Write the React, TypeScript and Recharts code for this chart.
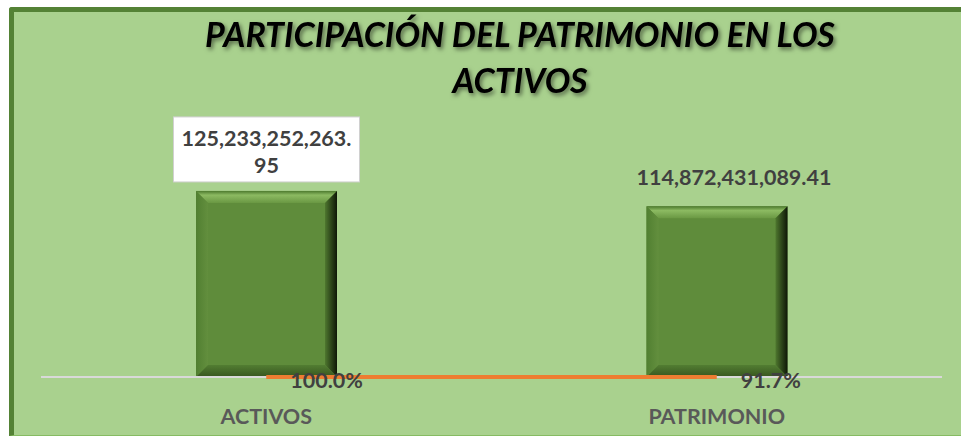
import React from 'react';
import { ComposedChart, Bar, Line, XAxis, YAxis, LabelList, Customized, ReferenceLine } from 'recharts';

const categories = ['ACTIVOS', 'PATRIMONIO'];
const amounts = [125233252263.95, 114872431089.41];
const shares = [1.0, 0.917];
const titleLines = ['PARTICIPACIÓN DEL PATRIMONIO EN LOS', 'ACTIVOS'];

const data = categories.map((name, i) => ({ name, amount: amounts[i], share: shares[i] }));

const FONT = 'Lato, "Open Sans", sans-serif';
const LABEL_SIZE = 21.5;

const fmtAmount = (v: number) =>
  v.toLocaleString('en-US', { minimumFractionDigits: 2, maximumFractionDigits: 2 });

const BevelBar = (props: any) => {
  const { x, y, width: w, height: h, index } = props;
  if (!w || !h) return null;
  const b = 12;
  const id = `bv${index}`;
  return (
    <g>
      <defs>
        <linearGradient id={`${id}t`} x1="0" y1="0" x2="0" y2="1">
          <stop offset="0" stopColor="#4d7a2e" />
          <stop offset="0.35" stopColor="#8cba62" />
          <stop offset="1" stopColor="#6a9843" />
        </linearGradient>
        <linearGradient id={`${id}l`} x1="0" y1="0" x2="1" y2="0">
          <stop offset="0" stopColor="#517f31" />
          <stop offset="1" stopColor="#638f3e" />
        </linearGradient>
        <linearGradient id={`${id}r`} x1="0" y1="0" x2="1" y2="0">
          <stop offset="0" stopColor="#4e772e" />
          <stop offset="1" stopColor="#0e1707" />
        </linearGradient>
        <linearGradient id={`${id}b`} x1="0" y1="0" x2="0" y2="1">
          <stop offset="0" stopColor="#527d32" />
          <stop offset="1" stopColor="#38561f" />
        </linearGradient>
      </defs>
      <rect x={x} y={y} width={w} height={h} fill="#5f8c3b" />
      <polygon points={`${x},${y} ${x + w},${y} ${x + w - b},${y + b} ${x + b},${y + b}`} fill={`url(#${id}t)`} />
      <polygon points={`${x},${y} ${x + b},${y + b} ${x + b},${y + h - b} ${x},${y + h}`} fill={`url(#${id}l)`} />
      <polygon points={`${x + w},${y} ${x + w},${y + h} ${x + w - b},${y + h - b} ${x + w - b},${y + b}`} fill={`url(#${id}r)`} />
      <polygon points={`${x},${y + h} ${x + w},${y + h} ${x + w - b},${y + h - b} ${x + b},${y + h - b}`} fill={`url(#${id}b)`} />
    </g>
  );
};

const AmountLabel = (props: any) => {
  const { x, y, width, index, value } = props;
  const cx = x + width / 2;
  const txt = fmtAmount(Number(value));
  const style = { fontFamily: FONT, fontWeight: 700, fontSize: LABEL_SIZE, fill: '#404040' } as any;
  if (index === 0) {
    const cut = txt.lastIndexOf('.') + 1;
    return (
      <g>
        <rect x={cx - 93} y={y - 74} width={186} height={65} fill="#ffffff" stroke="#d0d0d0" strokeWidth={1} />
        <text x={cx} y={y - 53} textAnchor="middle" dominantBaseline="central" style={style}>
          {txt.slice(0, cut)}
        </text>
        <text x={cx} y={y - 26} textAnchor="middle" dominantBaseline="central" style={style}>
          {txt.slice(cut)}
        </text>
      </g>
    );
  }
  return (
    <text x={cx + 17} y={y - 29} textAnchor="middle" dominantBaseline="central" style={style}>
      {txt}
    </text>
  );
};

const ShareLabel = (props: any) => {
  const { x, y, value } = props;
  return (
    <text
      x={x + 24}
      y={y + 3}
      textAnchor="start"
      dominantBaseline="central"
      style={{ fontFamily: FONT, fontWeight: 700, fontSize: LABEL_SIZE, fill: '#404040' }}
    >
      {(Number(value) * 100).toFixed(1) + '%'}
    </text>
  );
};

const CatTick = (props: any) => {
  const { x, y, payload } = props;
  return (
    <text
      x={x}
      y={y + 31}
      textAnchor="middle"
      dominantBaseline="central"
      style={{ fontFamily: FONT, fontWeight: 700, fontSize: LABEL_SIZE, fill: '#595959' }}
    >
      {payload.value}
    </text>
  );
};

const Title = () => (
  <g>
    <defs>
      <filter id="tshadow" x="-5%" y="-30%" width="110%" height="160%">
        <feDropShadow dx="2" dy="2.5" stdDeviation="2" floodColor="#000" floodOpacity="0.5" />
      </filter>
    </defs>
    {titleLines.map((t, i) => (
      <text
        key={i}
        x={520}
        y={47 + i * 46}
        textAnchor="middle"
        filter="url(#tshadow)"
        style={{ fontFamily: FONT, fontWeight: 700, fontStyle: 'italic', fontSize: 34, fill: '#000' }}
      >
        {t}
      </text>
    ))}
  </g>
);

export default function App() {
  return (
    <div style={{ position: 'absolute', left: 0, top: 0, width: 961, height: 437, overflow: 'hidden' }}>
      <div
        style={{
          position: 'absolute',
          left: 9,
          top: 7,
          width: 952,
          height: 429,
          boxSizing: 'border-box',
          background: '#a9d18e',
          borderLeft: '5px solid #548235',
          borderTop: '5px solid #548235',
          borderBottom: '1px solid #86bb62',
          borderTopLeftRadius: 3,
        }}
      />
      <div style={{ position: 'absolute', left: 0, top: 0 }}>
        <ComposedChart
          width={961}
          height={437}
          data={data}
          margin={{ top: 169, right: 19, bottom: 30, left: 41 }}
        >
          <XAxis
            dataKey="name"
            height={30}
            axisLine={false}
            tickLine={false}
            tick={<CatTick />}
            interval={0}
          />
          <YAxis hide domain={[0, 140000000000]} />
          <ReferenceLine y={0} stroke="#d9d9d9" strokeWidth={2} />
          <Bar dataKey="amount" barSize={141} shape={<BevelBar />} isAnimationActive={false}>
            <LabelList dataKey="amount" content={<AmountLabel />} />
          </Bar>
          <Line
            dataKey="share"
            stroke="#ed7d31"
            strokeWidth={4}
            dot={false}
            activeDot={false}
            isAnimationActive={false}
          >
            <LabelList dataKey="share" content={<ShareLabel />} />
          </Line>
          <Customized component={Title} />
        </ComposedChart>
      </div>
    </div>
  );
}
